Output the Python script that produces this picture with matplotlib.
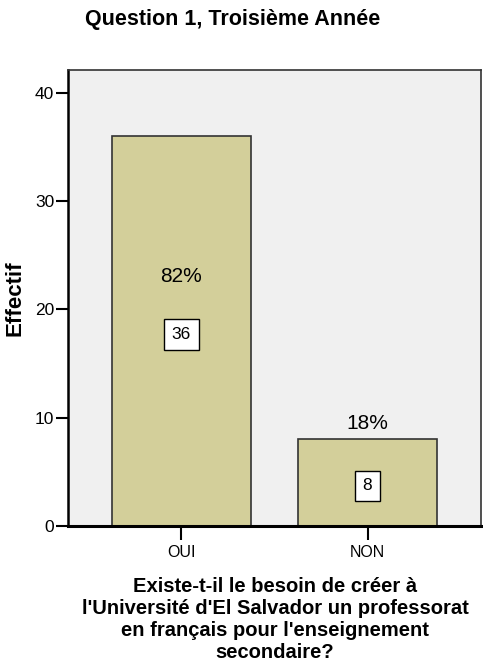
import matplotlib.pyplot as plt
from matplotlib import font_manager

# Données de la question 1
categories = ['OUI', 'NON']
effectifs = [36, 8]
pourcentages = ['82%', '18%']

noms = [f.name for f in font_manager.fontManager.ttflist]
police = 'Liberation Sans'
police_etroite = 'Liberation Sans Narrow' if 'Liberation Sans Narrow' in noms else police
plt.rcParams['font.family'] = police

fig = plt.figure(figsize=(4.83, 6.69), dpi=100)
# axe: gauche 68px, droite 481px, haut 70px, bas 526px
ax = fig.add_axes([68 / 483, 1 - 526 / 669, 413 / 483, 456 / 669])
ax.set_facecolor('#f0f0f0')

x = list(range(len(categories)))
ax.bar(x, effectifs, width=0.75, color='#d3cf9a', edgecolor='#333333', linewidth=1.2, zorder=2)

ax.set_xlim(-0.61, 1.61)
ax.set_ylim(0, 42.1)
ax.set_yticks([0, 10, 20, 30, 40])
ax.set_xticks(x)
ax.set_xticklabels(categories, fontfamily=police_etroite, fontsize=11.5)
for lab in ax.get_yticklabels():
    lab.set_fontfamily(police_etroite)
    lab.set_fontsize(12.5)
ax.tick_params(axis='y', length=9, width=1.5, pad=1)
ax.tick_params(axis='x', length=10, width=1.5, pad=4)

for s in ax.spines.values():
    s.set_linewidth(1.2)
    s.set_color('#333333')
ax.spines['left'].set_color('black')
ax.spines['left'].set_linewidth(1.8)
ax.spines['bottom'].set_color('black')
ax.spines['bottom'].set_linewidth(2.2)

# Étiquettes : effectif dans un cadre, pourcentage au-dessus
for xi, v, p in zip(x, effectifs, pourcentages):
    ax.text(xi, v / 2 - 0.3, str(v), ha='center', va='center', fontsize=12.5,
            fontfamily=police_etroite, zorder=3,
            bbox=dict(boxstyle='square,pad=0.45', facecolor='white', edgecolor='black', linewidth=1))
    y_pct = v / 2 + 5 if v / 2 + 6.5 < v else v + 1.5
    ax.text(xi, y_pct, p, ha='center', va='center', fontsize=15,
            fontfamily=police_etroite, zorder=3)

ax.set_ylabel('Effectif', fontsize=16, fontweight='bold')
ax.yaxis.set_label_coords(-0.102, 0.5)
fig.text(233 / 483, 1 - 20 / 669, 'Question 1, Troisième Année', ha='center', va='center',
         fontsize=15.5, fontweight='bold')
fig.text(275 / 483, 1 - 620 / 669,
         "Existe-t-il le besoin de créer à\nl'Université d'El Salvador un professorat\n"
         "en français pour l'enseignement\nsecondaire?",
         ha='center', va='center', fontsize=14.5, fontweight='bold', linespacing=1.2)

fig.savefig('out.png', dpi=100)
